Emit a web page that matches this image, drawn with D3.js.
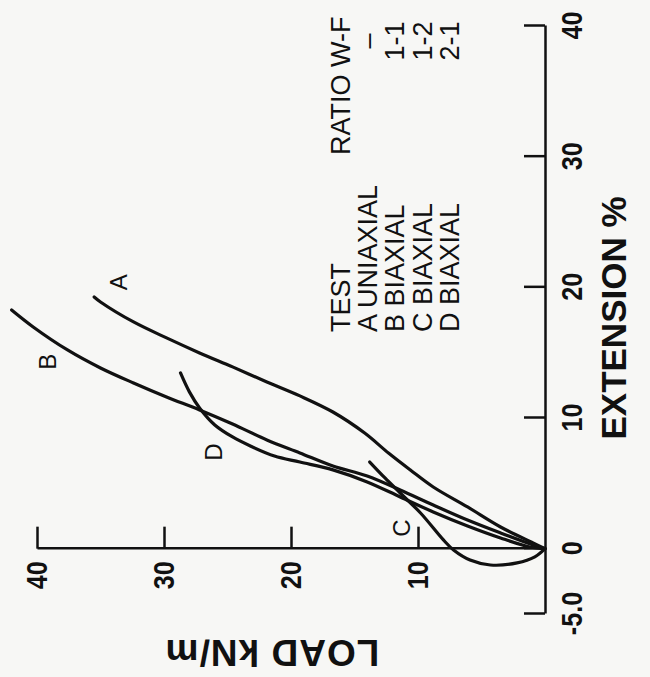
<!DOCTYPE html>
<html>
<head>
<meta charset="utf-8">
<script src="https://cdn.jsdelivr.net/npm/d3@7"></script>
<style>
  body { margin: 0; background: #f7f7f5; }
  svg { display: block; }
  text { font-family: "Liberation Sans", Arial, sans-serif; fill: #111; }
</style>
</head>
<body>
<svg id="chart" width="650" height="677"></svg>
<script>
// curves, [extension %, load kN/m]
const curveA = [[0,0],[0.44,0.94],[1.66,3.5],[3.19,6.1],[4.72,8.8],[6.02,10.6],[7.3,12.3],[8.85,14.2],[10.46,16.7],[11.69,19.3],[12.76,21.9],[13.91,24.6],[14.98,27.2],[16.13,29.8],[17.35,32.4],[18.88,35.0],[19.26,35.5]];
const curveB = [[0,0],[0.28,0.94],[1.2,3.5],[2.19,6.1],[3.34,8.8],[4.49,11.4],[5.56,14.0],[6.33,16.7],[7.33,19.3],[8.32,21.9],[9.54,24.6],[10.62,27.2],[11.61,29.8],[12.68,32.4],[13.83,35.0],[15.21,37.6],[16.97,40.3],[18.27,42.0]];
const curveC = [[0,0],[-0.63,0.8],[-1.09,2.2],[-1.25,4.3],[-0.87,5.9],[-0.1,7.2],[0.67,8.0],[2.73,9.8],[4.26,11.4],[5.41,12.6],[6.63,13.8]];
const curveD = [[0,0],[0.13,1.2],[0.82,3.5],[1.74,6.1],[2.81,8.8],[3.96,11.4],[5.11,14.0],[6.03,16.7],[6.63,19.3],[7.09,21.3],[7.86,23.2],[8.55,24.6],[9.47,26.0],[10.77,27.2],[12.0,28.0],[13.45,28.7]];

const curveLabels = ['A', 'B', 'C', 'D'];
const curveLabelPos = [[20.4, 33.6], [14.3, 39.2], [1.58, 11.3], [7.4, 26.1]];

const extTicks = [-5, 0, 10, 20, 30, 40];
const loadTicks = [10, 20, 30, 40];

const testNames = ['A UNIAXIAL', 'B BIAXIAL', 'C BIAXIAL', 'D BIAXIAL'];
const ratios = ['\u2013', '1-1', '1-2', '2-1'];

// the page is printed sideways: draw upright then turn it
const W = 677, H = 650;
const svg = d3.select('#chart');
const g = svg.append('g').attr('transform', `translate(0,${W}) rotate(-90)`);

const x = d3.scaleLinear().domain([-5, 40]).range([63, 651]);
const y = d3.scaleLinear().domain([0, 40]).range([545, 37]);

// extension axis
const xAxis = d3.axisBottom(x)
    .tickValues(extTicks)
    .tickFormat(d => d === -5 ? '-5.0' : d)
    .tickSizeInner(-21).tickSizeOuter(0).tickPadding(16);
const gx = g.append('g').attr('transform', `translate(0,${y(0)})`).call(xAxis);

// load axis
const yAxis = d3.axisLeft(y)
    .tickValues(loadTicks)
    .tickSizeInner(-22).tickSizeOuter(0).tickPadding(15);
const gy = g.append('g').attr('transform', `translate(${x(0)},0)`).call(yAxis);

[gx, gy].forEach(ax => {
    ax.attr('font-family', null).attr('font-size', null);
    ax.selectAll('path, line').attr('stroke', '#111').attr('stroke-width', 2.5);
    ax.selectAll('text')
        .style('font-size', '30px')
        .style('font-weight', 'bold')
        .attr('transform', 'scale(0.84,1)')
        .attr('fill', '#111');
});

const line = d3.line()
    .x(d => x(d[0]))
    .y(d => y(d[1]))
    .curve(d3.curveCatmullRom.alpha(0.5));

[curveA, curveB, curveC, curveD].forEach(c => {
    g.append('path')
        .attr('d', line(c))
        .attr('fill', 'none')
        .attr('stroke', '#111')
        .attr('stroke-width', 3.2)
        .attr('stroke-linecap', 'round');
});

g.selectAll('.clabel')
    .data(curveLabels)
    .enter()
    .append('text')
    .attr('x', (d, i) => x(curveLabelPos[i][0]))
    .attr('y', (d, i) => y(curveLabelPos[i][1]))
    .attr('text-anchor', 'middle')
    .attr('dy', '0.36em')
    .style('font-size', '24px')
    .text(d => d);

// legend table
const legend = g.append('g').style('font-size', '27px');
legend.append('text').attr('x', 345).attr('y', 350).text('TEST');
legend.append('text').attr('x', 522).attr('y', 350).text('RATIO W-F');
testNames.forEach((t, i) => {
    legend.append('text').attr('x', 345).attr('y', 377 + i * 27.3).text(t);
    legend.append('text').attr('x', 636).attr('y', 377 + i * 27.3)
        .attr('text-anchor', 'middle').text(ratios[i]);
});

// axis titles
g.append('text')
    .attr('x', 359).attr('y', 626)
    .attr('text-anchor', 'middle')
    .style('font-size', '35px').style('font-weight', 'bold')
    .text('EXTENSION %');

g.append('text')
    .attr('transform', `translate(37,${272}) rotate(-90)`)
    .attr('text-anchor', 'middle')
    .style('font-size', '37px').style('font-weight', 'bold')
    .style('letter-spacing', '1px')
    .text('LOAD kN/m');
</script>
</body>
</html>
